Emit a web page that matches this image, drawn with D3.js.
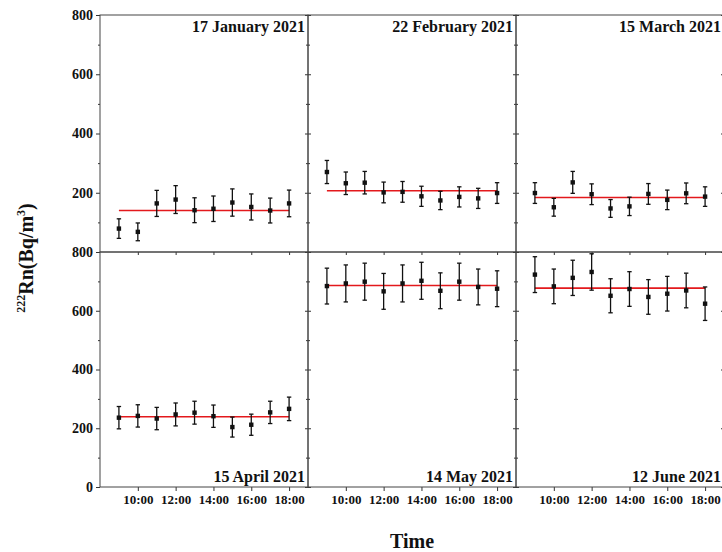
<!DOCTYPE html>
<html>
<head>
<meta charset="utf-8">
<script src="https://cdn.jsdelivr.net/npm/d3@7"></script>
<style>
  body { margin: 0; background: #fff; }
  svg { display: block; font-family: "Liberation Serif", "Times New Roman", serif; }
</style>
</head>
<body>
<svg id="chart" width="722" height="552"></svg>
<script>
// sampling hours (9:00 ... 18:00)
const hours = [9, 10, 11, 12, 13, 14, 15, 16, 17, 18];
const hourTicks = [10, 12, 14, 16, 18];
const yMajor = [0, 200, 400, 600, 800];
const yMinor = [100, 300, 500, 700];

const titles = ['17 January 2021', '22 February 2021', '15 March 2021',
                '15 April 2021', '14 May 2021', '12 June 2021'];

// radon concentration (Bq/m3) and its uncertainty, one array per day
const janVals = [79, 68, 164, 177, 141, 146, 167, 152, 140, 164];
const janErr  = [33, 30, 44, 47, 42, 43, 46, 44, 42, 45];
const febVals = [270, 232, 234, 201, 203, 188, 174, 186, 181, 199];
const febErr  = [39, 38, 38, 35, 35, 34, 31, 34, 34, 35];
const marVals = [199, 151, 235, 195, 147, 154, 196, 176, 198, 187];
const marErr  = [35, 30, 37, 35, 30, 31, 35, 33, 35, 33];
const aprVals = [236, 242, 233, 247, 253, 241, 204, 212, 254, 266];
const aprErr  = [38, 38, 38, 39, 39, 38, 34, 36, 38, 40];
const mayVals = [684, 693, 699, 666, 693, 702, 668, 699, 681, 675];
const mayErr  = [61, 63, 63, 61, 63, 63, 61, 63, 61, 61];
const junVals = [723, 683, 712, 732, 651, 674, 647, 658, 669, 624];
const junErr  = [61, 59, 60, 62, 58, 59, 59, 59, 59, 57];

// daily mean (red line)
const means = [140, 207, 184, 239, 686, 677];

const values = [janVals, febVals, marVals, aprVals, mayVals, junVals];
const errors = [janErr, febErr, marErr, aprErr, mayErr, junErr];

const svg = d3.select('#chart');
const left = 100, panelW = 208;
const rowY = [15, 252, 487];
const fontBold = { 'font-weight': 'bold', 'font-family': '"Liberation Serif", "Times New Roman", serif' };

const x = d3.scaleLinear().domain([8, 19]);
const yScales = [
  d3.scaleLinear().domain([0, 800]).range([rowY[1], rowY[0]]),
  d3.scaleLinear().domain([0, 800]).range([rowY[2], rowY[1]])
];

function styleAxis(g) {
  g.select('.domain').remove();
  g.selectAll('line').attr('stroke', '#333').attr('stroke-width', 1);
  g.selectAll('text')
    .attr('fill', '#111')
    .attr('font-weight', 'bold')
    .attr('font-family', fontBold['font-family']);
}

for (let i = 0; i < 6; i++) {
  const row = Math.floor(i / 3), col = i % 3;
  const x0 = left + col * panelW, x1 = x0 + panelW;
  const y = yScales[row];
  const xs = x.copy().range([x0, x1]);
  const g = svg.append('g');

  // left axis
  if (col === 0) {
    const labelled = row === 0 ? [200, 400, 600, 800] : yMajor;
    g.append('g').attr('transform', `translate(${x0},0)`)
      .call(d3.axisLeft(y).tickValues(labelled).tickSize(4).tickPadding(3))
      .attr('font-size', 14)
      .call(styleAxis);
    g.append('g').attr('transform', `translate(${x0},0)`)
      .call(d3.axisLeft(y).tickValues(yMinor).tickSize(2).tickFormat(''))
      .call(styleAxis);
  } else {
    g.append('g').attr('transform', `translate(${x0},0)`)
      .call(d3.axisRight(y).tickValues(yMajor).tickSize(3).tickFormat(''))
      .call(styleAxis);
    g.append('g').attr('transform', `translate(${x0},0)`)
      .call(d3.axisRight(y).tickValues(yMinor).tickSize(2).tickFormat(''))
      .call(styleAxis);
  }
  // right side inner ticks
  g.append('g').attr('transform', `translate(${x1},0)`)
    .call(d3.axisLeft(y).tickValues(yMajor).tickSize(3).tickFormat(''))
    .call(styleAxis);
  g.append('g').attr('transform', `translate(${x1},0)`)
    .call(d3.axisLeft(y).tickValues(yMinor).tickSize(2).tickFormat(''))
    .call(styleAxis);

  if (row === 1) {
    // bottom axis with hour labels
    g.append('g').attr('transform', `translate(0,${rowY[2]})`)
      .call(d3.axisBottom(xs).tickValues(hourTicks).tickSize(4).tickPadding(4)
        .tickFormat(d => `${d}:00`))
      .attr('font-size', 13)
      .call(styleAxis);
    // inner ticks on the shared top edge
    g.append('g').attr('transform', `translate(0,${rowY[1]})`)
      .call(d3.axisBottom(xs).tickValues(hourTicks).tickSize(3).tickFormat(''))
      .call(styleAxis);
  }

  // panel frame
  g.append('rect')
    .attr('x', x0).attr('y', rowY[row])
    .attr('width', panelW).attr('height', rowY[row + 1] - rowY[row])
    .attr('fill', 'none').attr('stroke', '#444').attr('stroke-width', 1);

  // mean line
  g.append('line')
    .attr('x1', xs(hours[0])).attr('x2', xs(hours[hours.length - 1]))
    .attr('y1', y(means[i])).attr('y2', y(means[i]))
    .attr('stroke', '#e3191c').attr('stroke-width', 1.6);

  // error bars + points
  const pts = hours.map((h, k) => ({ h, v: values[i][k], e: errors[i][k] }));
  const eb = g.append('g').attr('stroke', '#111').attr('stroke-width', 1.3);
  eb.selectAll('line.v').data(pts).join('line').attr('class', 'v')
    .attr('x1', d => xs(d.h)).attr('x2', d => xs(d.h))
    .attr('y1', d => y(d.v - d.e)).attr('y2', d => y(d.v + d.e));
  eb.selectAll('line.t').data(pts).join('line').attr('class', 't')
    .attr('x1', d => xs(d.h) - 2.2).attr('x2', d => xs(d.h) + 2.2)
    .attr('y1', d => y(d.v + d.e)).attr('y2', d => y(d.v + d.e));
  eb.selectAll('line.b').data(pts).join('line').attr('class', 'b')
    .attr('x1', d => xs(d.h) - 2.2).attr('x2', d => xs(d.h) + 2.2)
    .attr('y1', d => y(d.v - d.e)).attr('y2', d => y(d.v - d.e));
  g.selectAll('rect.pt').data(pts).join('rect').attr('class', 'pt')
    .attr('x', d => xs(d.h) - 2.2).attr('y', d => y(d.v) - 2.2)
    .attr('width', 4.4).attr('height', 4.4).attr('fill', '#111');

  // title
  g.append('text')
    .attr('x', x1 - 3)
    .attr('y', row === 0 ? rowY[0] + 17 : rowY[2] - 5)
    .attr('text-anchor', 'end')
    .attr('font-size', 16).attr('font-weight', 'bold').attr('fill', '#111')
    .text(titles[i]);
}

// axis titles
svg.append('text')
  .attr('x', left + 1.5 * panelW).attr('y', 548)
  .attr('text-anchor', 'middle')
  .attr('font-size', 20).attr('font-weight', 'bold').attr('fill', '#111')
  .text('Time');

const yt = svg.append('text')
  .attr('transform', 'translate(33,258) rotate(-90)')
  .attr('text-anchor', 'middle')
  .attr('font-size', 20).attr('font-weight', 'bold').attr('fill', '#111');
yt.append('tspan').attr('font-size', 12).attr('dy', -8).text('222');
yt.append('tspan').attr('dy', 8).text('Rn(Bq/m');
yt.append('tspan').attr('font-size', 12).attr('dy', -8).text('3');
yt.append('tspan').attr('dy', 8).text(')');
</script>
</body>
</html>
